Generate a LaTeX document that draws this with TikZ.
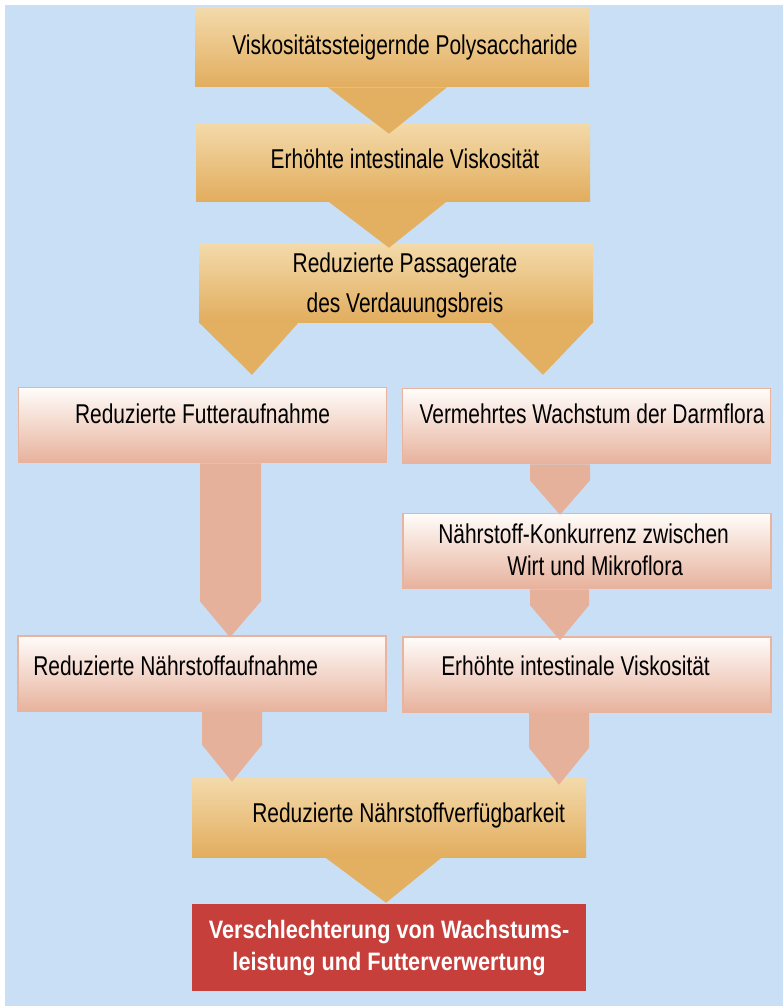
\documentclass[tikz,border=0pt]{standalone}
\usepackage{fontspec}
\setmainfont[FakeStretch=0.77]{Liberation Sans}
\newfontfamily\condbold[FakeStretch=0.86]{Liberation Sans}
\usetikzlibrary{calc}

\definecolor{bgblue}{HTML}{C8DFF5}
\definecolor{tantop}{HTML}{F3DAAA}
\definecolor{tanbot}{HTML}{E2AD5E}
\definecolor{tanarr}{HTML}{E3AF60}
\definecolor{pinktop}{HTML}{FFFCFA}
\definecolor{pinkbot}{HTML}{E7B29C}
\definecolor{pinkline}{HTML}{E9B39E}
\definecolor{pinkarr}{HTML}{E5B19B}
\definecolor{redbox}{HTML}{C63F3B}

\tikzset{
  tanbox/.style={rectangle, inner sep=0pt, top color=tantop, bottom color=tanbot,
    minimum width=394*0.75pt, minimum height=79*0.75pt},
  pinkbox/.style={rectangle, inner sep=0pt, draw=pinkline, line width=1.5*0.75pt,
    top color=pinktop, bottom color=pinkbot,
    minimum width=368*0.75pt, minimum height=75*0.75pt},
  resultbox/.style={rectangle, inner sep=0pt, fill=redbox,
    minimum width=394*0.75pt, minimum height=87*0.75pt},
  boxtext/.style={inner sep=0pt, font=\fontsize{20.4}{24}\selectfont},
  tanarrow/.style={fill=tanarr},
  pinkarrow/.style={fill=pinkarr}
}

\begin{document}
\begin{tikzpicture}[x=0.75pt, y=-0.75pt]
  \useasboundingbox (0,0) rectangle (783,1006);
  \fill[bgblue] (5,5) rectangle (783,1006);

  % boxes
  \node[tanbox] (poly) at (392,47.5) {};
  \node[tanbox, minimum height=78*0.75pt] (viskA) at (393,162) {};
  \node[tanbox, minimum height=78*0.75pt] (passage) at (396,283) {};
  \node[pinkbox] (futter) at (202.5,425) {};
  \node[pinkbox] (darm) at (586.5,426) {};
  \node[pinkbox] (konk) at (587,551) {};
  \node[pinkbox] (naehr) at (202,673.5) {};
  \node[pinkbox] (viskB) at (587,674.5) {};
  \node[tanbox] (verfueg) at (389,817.5) {};
  \node[resultbox] (result) at (389,947.5) {};

  % tan arrows
  \fill[tanarrow] ($(poly.south)+(-64,0)$) -- ($(poly.south)+(55,0)$)
    -- ($(viskA.north)+(-4,11)$) -- cycle;
  \fill[tanarrow] ($(viskA.south)+(-65,0)$) -- ($(viskA.south)+(54,0)$)
    -- ($(passage.north)+(-7,4)$) -- cycle;
  \fill[tanarrow] (passage.south west) -- ($(passage.south west)+(100,0)$)
    -- ($(futter.north)+(49.5,-12)$) -- cycle;
  \fill[tanarrow] ($(passage.south east)+(-103,0)$) -- (passage.south east)
    -- ($(darm.north)+(-43.5,-13)$) -- cycle;
  \fill[tanarrow] ($(verfueg.south)+(-64,0)$) -- ($(verfueg.south)+(53,0)$)
    -- ($(result.north)+(-3,-1)$) -- cycle;

  % pink arrows
  \fill[pinkarrow] ($(futter.south)+(-2.5,0)$) -- ++(0,138)
    -- ($(naehr.north)+(28,2)$) -- ($(futter.south)+(58.5,138)$) -- ++(0,-138) -- cycle;
  \fill[pinkarrow] ($(darm.south)+(-56.5,0)$) -- ++(0,16)
    -- ($(konk.north)+(-27,2)$) -- ($(darm.south)+(3.5,16)$) -- ++(0,-16) -- cycle;
  \fill[pinkarrow] ($(konk.south)+(-57,0)$) -- ++(0,16)
    -- ($(viskB.north)+(-27,4)$) -- ($(konk.south)+(2,16)$) -- ++(0,-16) -- cycle;
  \fill[pinkarrow] (naehr.south) -- ++(0,33)
    -- ($(verfueg.north)+(-157,4)$) -- ($(naehr.south)+(60,33)$) -- ++(0,-33) -- cycle;
  \fill[pinkarrow] ($(viskB.south)+(-58,0)$) -- ++(0,35)
    -- ($(verfueg.north)+(170,7)$) -- ($(viskB.south)+(2,35)$) -- ++(0,-35) -- cycle;

  % texts (two-line nodes sit on the baseline of their last line)
  \node[boxtext, anchor=base] (poly-t) at (405,55) {Viskositätssteigernde Polysaccharide};
  \node[boxtext, anchor=base] (viskA-t) at (405,168) {Erhöhte intestinale Viskosität};
  \node[boxtext, anchor=base, align=center, font=\fontsize{20.4}{30}\selectfont]
    (passage-t) at (405,312) {Reduzierte Passagerate\\des Verdauungsbreis};
  \node[boxtext, anchor=base] (futter-t) at (202.5,423) {Reduzierte Futteraufnahme};
  \node[boxtext, anchor=base] (darm-t) at (592,423) {Vermehrtes Wachstum der Darmflora};
  \node[boxtext, anchor=base west, align=left] (konk-t) at (438,575)
    {Nährstoff-Konkurrenz zwischen\\\hspace*{51.75pt}Wirt und Mikroflora};
  \node[boxtext, anchor=base west] (naehr-t) at (33,675) {Reduzierte Nährstoffaufnahme};
  \node[boxtext, anchor=base west] (viskB-t) at (441,675) {Erhöhte intestinale Viskosität};
  \node[boxtext, anchor=base west] (verfueg-t) at (252,822) {Reduzierte Nährstoffverfügbarkeit};
  \node[boxtext, anchor=base, align=center, text=white,
    font=\condbold\bfseries\fontsize{18.9}{24}\selectfont]
    (result-t) at (389,970) {Verschlechterung von Wachstums-\\leistung und Futterverwertung};
\end{tikzpicture}
\end{document}
